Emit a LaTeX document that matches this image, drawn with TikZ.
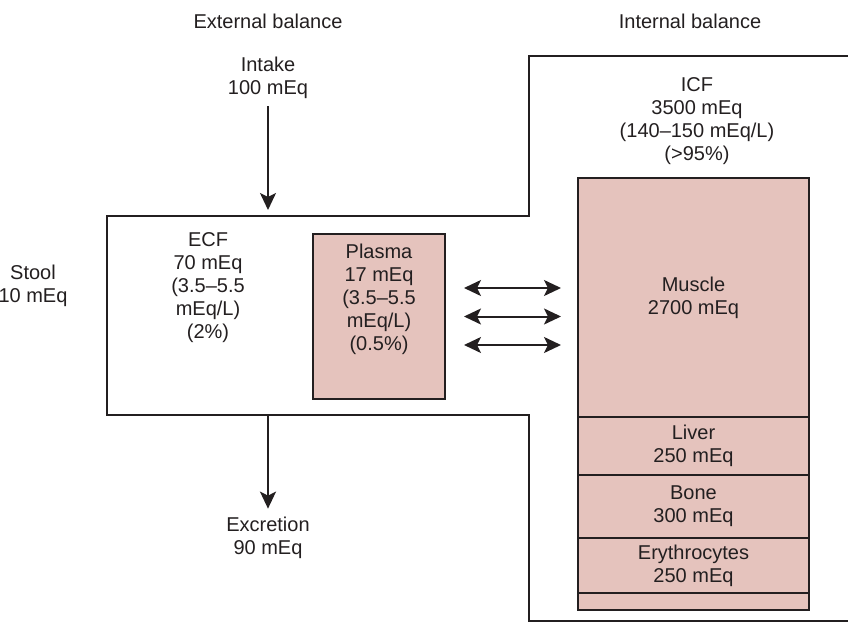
\documentclass[tikz,border=0pt]{standalone}
\usepackage{fontspec}
\setmainfont{Liberation Sans}
\usetikzlibrary{arrows.meta, positioning}
\definecolor{ink}{RGB}{35,31,32}
\definecolor{tissue}{RGB}{229,195,189}

\begin{document}
\begin{tikzpicture}[x=1pt, y=-1pt, text=ink, font=\fontsize{20}{23}\selectfont,
	    >={Stealth[length=17pt, width=16pt, inset=4pt]},
	    pool/.style={draw=ink, line width=2.5pt, fill=tissue, outer sep=0pt, inner sep=0pt, minimum width=231pt, align=center},
	    flow/.style={draw=ink, line width=2pt, ->},
	    swap/.style={draw=ink, line width=2pt, <->, shorten <=19pt, shorten >=17pt}]
	    \useasboundingbox (0,0) rectangle (848,623);
	    % compartment outline: ECF on the left, ICF on the right
	    \draw[ink, line width=2.5pt] (107,216) -- (529,216) -- (529,56) -- (852,56) -- (852,621) -- (529,621) -- (529,415) -- (107,415) -- cycle ;
	    \node (ext) at (268,21) {External balance};
	    \node (int) at (690,21) {Internal balance};
	    \node[align=center] (intake) at (268,78) {Intake\\100 mEq};
	    \node[align=center] (stool) at (33,286) {Stool\\10 mEq};
	    \node[align=center] (excr) at (268,538) {Excretion\\90 mEq};
	    \node[align=center] (ecf) at (208,288) {ECF\\70 mEq\\(3.5--5.5\\mEq/L)\\(2\%)};
	    \node[align=center] (icf) at (697,121) {ICF\\3500 mEq\\(140--150 mEq/L)\\(>95\%)};
	    % plasma inside the ECF
	    \node[pool, minimum width=132pt, minimum height=165pt] (plasma) at (379,316.5) {};
	    \node[align=center] (plasmatxt) at (379,299.5) {Plasma\\17 mEq\\(3.5--5.5\\mEq/L)\\(0.5\%)};
	    % tissue stack inside the ICF
	    \node[pool, minimum height=239pt, anchor=north west] (muscle) at (578,178) {Muscle\\2700 mEq};
	    \node[pool, minimum height=58pt, below=0pt of muscle] (liver) {Liver\\250 mEq};
	    \node[pool, minimum height=63pt, below=0pt of liver] (bone) {Bone\\300 mEq};
	    \node[pool, minimum height=55pt, below=0pt of bone] (ery) {Erythrocytes\\250 mEq};
	    \node[pool, minimum height=17pt, below=0pt of ery] (rest) {};
	    % fluxes
	    \coordinate (ecfin) at (268,210);
	    \coordinate (ecfout) at (268,415);
	    \draw[flow] ([yshift=-4pt]intake.south) -- (ecfin);
	    \draw[flow] (ecfout) -- ([yshift=5pt]excr.north);
	    \foreach \dy in {-28.5,0,28.5}
	        \draw[swap] ([yshift=\dy pt]plasma.east) -- ([yshift=\dy pt]plasma.east -| muscle.west);
	\end{tikzpicture}
\end{document}
